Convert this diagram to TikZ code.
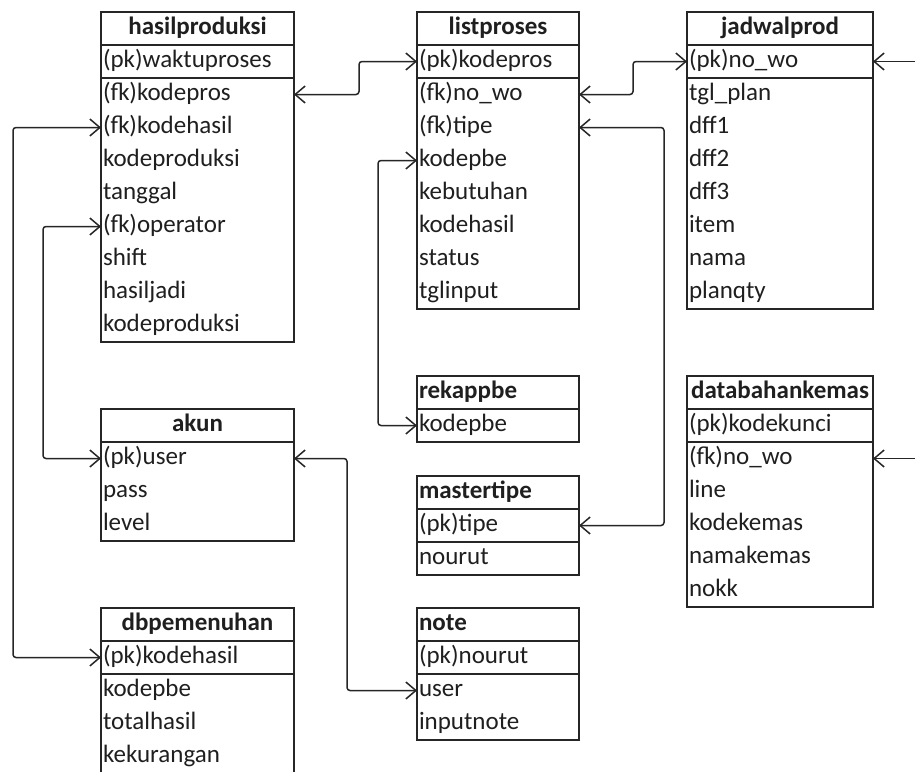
\documentclass[tikz,border=0pt]{standalone}
\usepackage{fontspec}
\setmainfont{Carlito}
\usetikzlibrary{arrows.meta}

\begin{document}
\begin{tikzpicture}
                [x=1pt, y=-1pt, font=\fontsize{25}{30}\selectfont, text=black!88,
                col1/.style={text width=189pt},
                col2/.style={text width=158pt},
                col3/.style={text width=182pt},
                fsty/.style={anchor=north west, inner xsep=2pt, inner ysep=0pt, outer sep=0pt, minimum height=33pt, text height=18pt, text depth=6pt, align=left},
                tsty/.style={fsty, draw=black!85, line width=1.5pt, font=\fontsize{25}{30}\selectfont\bfseries, align=center},
                ksty/.style={fsty, draw=black!85, line width=1.5pt},
                bsty/.style={draw=black!85, line width=1.5pt},
                lsty/.style={draw=black!85, line width=1.5pt, rounded corners=3pt},
                asty/.style={lsty, {Straight Barb[length=10pt,width=17pt]}-{Straight Barb[length=10pt,width=17pt]}},
                osty/.style={lsty, -{Straight Barb[length=10pt,width=17pt]}}]
                \useasboundingbox (0,0) rectangle (915,771);
                \clip (0,0) rectangle (915,771);
                % hasilproduksi
                \node[tsty, col1] (hp) at (101,12) {hasilproduksi};
                \node[ksty, col1] (hp-waktuproses) at (101,45) {(pk)waktuproses};
                \node[fsty, col1] (hp-kodepros) at (101,78) {(fk)kodepros};
                \node[fsty, col1] (hp-kodehasil) at (101,111) {(fk)kodehasil};
                \node[fsty, col1] (hp-kodeproduksi) at (101,144) {kodeproduksi};
                \node[fsty, col1] (hp-tanggal) at (101,177) {tanggal};
                \node[fsty, col1] (hp-operator) at (101,210) {(fk)operator};
                \node[fsty, col1] (hp-shift) at (101,243) {shift};
                \node[fsty, col1] (hp-hasiljadi) at (101,276) {hasiljadi};
                \node[fsty, col1] (hp-kodeproduksi2) at (101,309) {kodeproduksi};
                \draw[bsty] (hp-kodepros.north west) rectangle (hp-kodeproduksi2.south east);
                % listproses
                \node[tsty, col2] (lp) at (417,12) {listproses};
                \node[ksty, col2] (lp-kodepros) at (417,45) {(pk)kodepros};
                \node[fsty, col2] (lp-nowo) at (417,78) {(fk)no\_wo};
                \node[fsty, col2] (lp-tipe) at (417,111) {(fk)tipe};
                \node[fsty, col2] (lp-kodepbe) at (417,144) {kodepbe};
                \node[fsty, col2] (lp-kebutuhan) at (417,177) {kebutuhan};
                \node[fsty, col2] (lp-kodehasil) at (417,210) {kodehasil};
                \node[fsty, col2] (lp-status) at (417,243) {status};
                \node[fsty, col2] (lp-tglinput) at (417,276) {tglinput};
                \draw[bsty] (lp-nowo.north west) rectangle (lp-tglinput.south east);
                % jadwalprod
                \node[tsty, col3] (jw) at (687,12) {jadwalprod};
                \node[ksty, col3] (jw-nowo) at (687,45) {(pk)no\_wo};
                \node[fsty, col3] (jw-tglplan) at (687,78) {tgl\_plan};
                \node[fsty, col3] (jw-dff1) at (687,111) {dff1};
                \node[fsty, col3] (jw-dff2) at (687,144) {dff2};
                \node[fsty, col3] (jw-dff3) at (687,177) {dff3};
                \node[fsty, col3] (jw-item) at (687,210) {item};
                \node[fsty, col3] (jw-nama) at (687,243) {nama};
                \node[fsty, col3] (jw-planqty) at (687,276) {planqty};
                \draw[bsty] (jw-tglplan.north west) rectangle (jw-planqty.south east);
                % rekappbe
                \node[tsty, col2, align=left] (rk) at (417,376) {rekappbe};
                \node[ksty, col2] (rk-kodepbe) at (417,409) {kodepbe};
                % mastertipe
                \node[tsty, col2, align=left] (mt) at (417,476) {mastertipe};
                \node[ksty, col2] (mt-tipe) at (417,509) {(pk)tipe};
                \node[ksty, col2] (mt-nourut) at (417,542) {nourut};
                % akun
                \node[tsty, col1] (ak) at (101,409) {akun};
                \node[fsty, col1] (ak-user) at (101,442) {(pk)user};
                \node[fsty, col1] (ak-pass) at (101,475) {pass};
                \node[fsty, col1] (ak-level) at (101,508) {level};
                \draw[bsty] (ak-user.north west) rectangle (ak-level.south east);
                % databahankemas
                \node[tsty, col3] (db) at (687,376) {databahankemas};
                \node[ksty, col3] (db-kodekunci) at (687,409) {(pk)kodekunci};
                \node[fsty, col3] (db-nowo) at (687,442) {(fk)no\_wo};
                \node[fsty, col3] (db-line) at (687,475) {line};
                \node[fsty, col3] (db-kodekemas) at (687,508) {kodekemas};
                \node[fsty, col3] (db-namakemas) at (687,541) {namakemas};
                \node[fsty, col3] (db-nokk) at (687,574) {nokk};
                \draw[bsty] (db-nowo.north west) rectangle (db-nokk.south east);
                % dbpemenuhan
                \node[tsty, col1] (dp) at (101,608) {dbpemenuhan};
                \node[ksty, col1] (dp-kodehasil) at (101,641) {(pk)kodehasil};
                \node[fsty, col1] (dp-kodepbe) at (101,674) {kodepbe};
                \node[fsty, col1] (dp-totalhasil) at (101,707) {totalhasil};
                \node[fsty, col1] (dp-kekurangan) at (101,740) {kekurangan};
                \draw[bsty] (dp-kodepbe.north west) rectangle (dp-kekurangan.south east);
                % note
                \node[tsty, col2, align=left] (nt) at (417,608) {note};
                \node[ksty, col2] (nt-nourut) at (417,641) {(pk)nourut};
                \node[fsty, col2] (nt-user) at (417,674) {user};
                \node[fsty, col2] (nt-inputnote) at (417,707) {inputnote};
                \draw[bsty] (nt-user.north west) rectangle (nt-inputnote.south east);
                % loose ends on the right
                \coordinate (jw-out) at ([xshift=45pt]jw-nowo.east);
                \coordinate (db-out) at ([xshift=45pt]db-nowo.east);
                % relations
                \draw[asty] (hp-kodepros.east) -- ([xshift=65pt]hp-kodepros.east) |- (lp-kodepros.west);
                \draw[asty] (lp-nowo.east) -- ([xshift=54pt]lp-nowo.east) |- (jw-nowo.west);
                \draw[asty] (lp-tipe.east) -- ([xshift=85pt]lp-tipe.east) |- (mt-tipe.east);
                \draw[osty] (jw-out) -- (jw-nowo.east);
                \draw[osty] (db-out) -- (db-nowo.east);
                \draw[asty] (hp-kodehasil.west) -- ([xshift=-88pt]hp-kodehasil.west) |- (dp-kodehasil.west);
                \draw[asty] (hp-operator.west) -- ([xshift=-58pt]hp-operator.west) |- (ak-user.west);
                \draw[asty] (lp-kodepbe.west) -- ([xshift=-39pt]lp-kodepbe.west) |- (rk-kodepbe.west);
                \draw[asty] (ak-user.east) -- ([xshift=53pt]ak-user.east) |- (nt-user.west);
            \end{tikzpicture}
\end{document}
